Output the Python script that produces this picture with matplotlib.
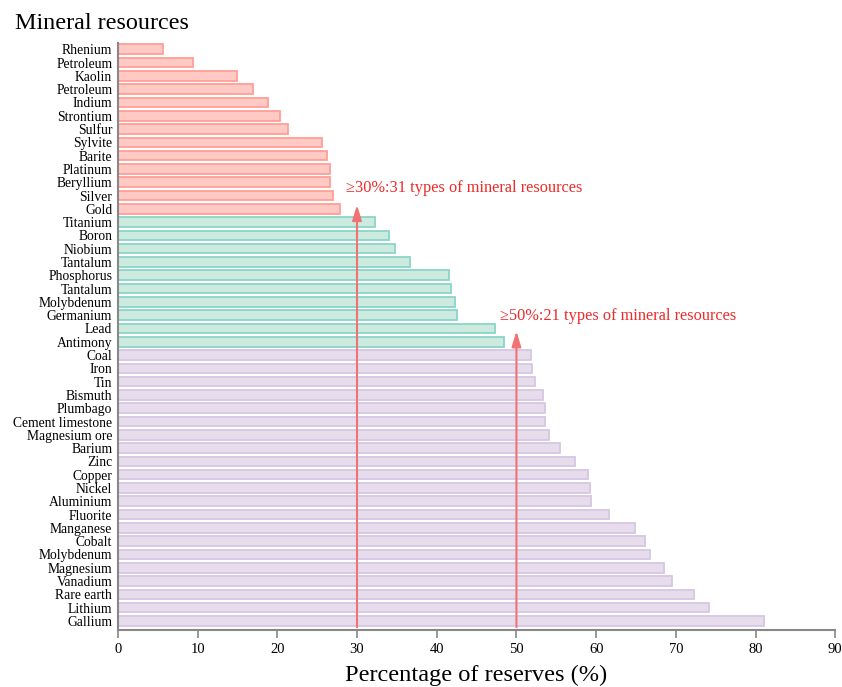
import numpy as np
import matplotlib.pyplot as plt

plt.rcParams['font.family'] = ['Liberation Serif', 'DejaVu Serif']

minerals = ["Rhenium", "Petroleum", "Kaolin", "Petroleum", "Indium", "Strontium", "Sulfur",
            "Sylvite", "Barite", "Platinum", "Beryllium", "Silver", "Gold",
            "Titanium", "Boron", "Niobium", "Tantalum", "Phosphorus", "Tantalum",
            "Molybdenum", "Germanium", "Lead", "Antimony",
            "Coal", "Iron", "Tin", "Bismuth", "Plumbago", "Cement limestone", "Magnesium ore",
            "Barium", "Zinc", "Copper", "Nickel", "Aluminium", "Fluorite", "Manganese",
            "Cobalt", "Molybdenum", "Magnesium", "Vanadium", "Rare earth", "Lithium", "Gallium"]
percent = [5.65, 9.4, 14.9, 16.9, 18.8, 20.3, 21.3, 25.6, 26.2, 26.6, 26.6, 27.0, 27.9,
           32.3, 34.0, 34.8, 36.7, 41.5, 41.8, 42.3, 42.5, 47.3, 48.4,
           51.8, 52.0, 52.3, 53.3, 53.6, 53.6, 54.1, 55.5, 57.4, 59.0, 59.2, 59.4,
           61.6, 64.9, 66.1, 66.8, 68.5, 69.5, 72.3, 74.1, 81.0]
# group of each bar: 0 = below 30%, 1 = 30-50%, 2 = above 50%
group = [0] * 13 + [1] * 10 + [2] * 21

faces = ["#ffc9c4", "#cdeade", "#e6dcec"]
edges = ["#ff9e96", "#8ad4c8", "#d6c6e4"]

fig = plt.figure(figsize=(8.42, 6.87), dpi=100)
ax = fig.add_axes([0.140, 0.083, 0.852, 0.854])

y = np.arange(len(minerals))
ax.barh(y, percent, height=0.72,
        color=[faces[g] for g in group], edgecolor=[edges[g] for g in group], linewidth=1.3)

ax.set_yticks(y)
ax.set_yticklabels(minerals, fontsize=9.8)
ax.tick_params(axis='y', length=0, pad=4)
ax.set_ylim(len(minerals) - 1 + 0.68, -0.45)

ax.set_xlim(0, 90)
ax.set_xticks(np.arange(0, 91, 10))
ax.tick_params(axis='x', labelsize=10.5, color="#888888", length=6, width=1.2)
ax.set_xlabel("Percentage of reserves (%)", fontsize=17.6, labelpad=6)

for s in ["top", "right"]:
    ax.spines[s].set_visible(False)
for s in ["left", "bottom"]:
    ax.spines[s].set_color("#888888")
    ax.spines[s].set_linewidth(1.5)

arrow_col = "#f07272"
text_col = "#ee2a2a"
bottom = len(minerals) - 1 + 0.68
head = "-|>,head_width=0.2,head_length=0.65"
ax.annotate("", xy=(30, 11.5), xytext=(30, bottom),
            arrowprops=dict(arrowstyle=head, color=arrow_col, lw=1.5, mutation_scale=14))
ax.text(28.6, 10.75, "≥30%:31 types of mineral resources", color=text_col, fontsize=11.8, va="baseline")
ax.annotate("", xy=(50, 21.0), xytext=(50, bottom),
            arrowprops=dict(arrowstyle=head, color=arrow_col, lw=1.5, mutation_scale=14))
ax.text(47.9, 20.4, "≥50%:21 types of mineral resources", color=text_col, fontsize=11.8, va="baseline")

fig.text(0.018, 0.958, "Mineral resources", fontsize=17.4, va="baseline")

fig.savefig("out.png", dpi=100)
